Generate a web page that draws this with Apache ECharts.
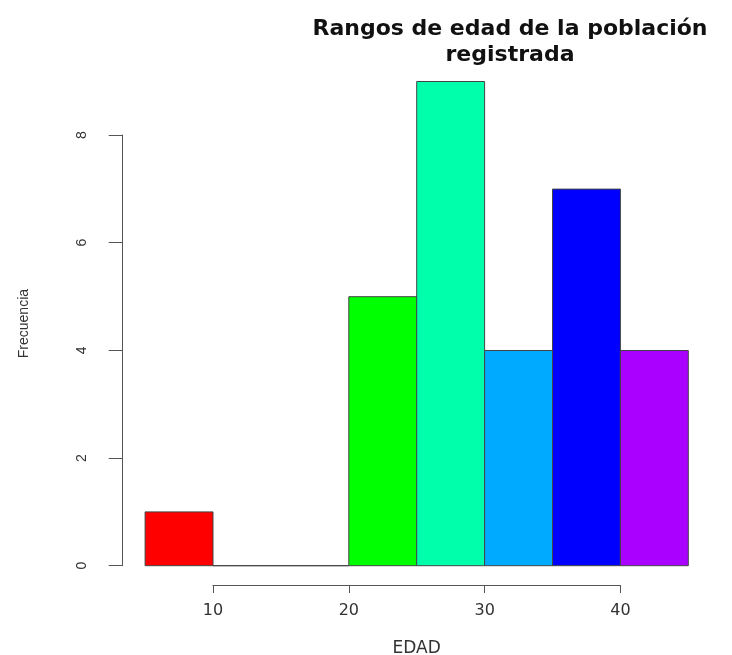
<!DOCTYPE html>
<html>
<head>
<meta charset="utf-8">
<script src="https://cdn.jsdelivr.net/npm/echarts@6/dist/echarts.min.js"></script>
<style>
html,body{margin:0;padding:0;background:#fff;}
#chart{width:732px;height:655px;}
</style>
</head>
<body>
<div id="chart"></div>
<script>
// Histogram bins (EDAD) and frequencies
const binStarts = [5, 10, 15, 20, 25, 30, 35, 40];
const binEnds   = [10, 15, 20, 25, 30, 35, 40, 45];
const counts    = [1, 0, 0, 5, 9, 4, 7, 4];
const barColors = ['#FF0000', '#FFAA00', '#AAFF00', '#00FF00', '#00FFAA', '#00AAFF', '#0000FF', '#AA00FF'];
const xTickMin = 10, xTickMax = 40, xTickStep = 10;
const yTickMin = 0, yTickMax = 8, yTickStep = 2;
const titleText = 'Rangos de edad de la población\nregistrada';
const xName = 'EDAD';
const yName = 'Frecuencia';

const chart = echarts.init(document.getElementById('chart'));
const axisColor = '#555';
const labelColor = '#333';

const option = {
  backgroundColor: '#ffffff',
  animation: false,
  title: {
    text: titleText,
    left: 505,
    top: 11,
    textAlign: 'center',
    textStyle: {
      fontFamily: 'DejaVu Sans',
      fontWeight: 'bold',
      fontSize: 22,
      lineHeight: 26,
      color: '#111'
    }
  },
  grid: [
    { left: 145.1, right: 43.7, top: 81.5, bottom: 89.3, outerBoundsMode: 'none', containLabel: false },   // bars
    { left: 213, right: 111.5, top: 81.5, bottom: 70, outerBoundsMode: 'none', containLabel: false },       // x axis
    { left: 122.7, right: 43.7, top: 135, bottom: 89.3, outerBoundsMode: 'none', containLabel: false }      // y axis
  ],
  xAxis: [
    {
      gridIndex: 0, type: 'value', min: 5, max: 45,
      axisLine: { show: false }, axisTick: { show: false },
      axisLabel: { show: false }, splitLine: { show: false },
      name: xName, nameLocation: 'middle', nameGap: 74,
      nameTextStyle: { fontFamily: 'DejaVu Sans', fontSize: 17, color: labelColor }
    },
    {
      gridIndex: 1, type: 'value', min: xTickMin, max: xTickMax, interval: xTickStep,
      axisLine: { show: true, lineStyle: { color: axisColor, width: 1 } },
      axisTick: { show: true, length: 8, lineStyle: { color: axisColor } },
      axisLabel: { show: true, margin: 18, fontFamily: 'DejaVu Sans', fontSize: 16, color: labelColor },
      splitLine: { show: false }
    },
    {
      gridIndex: 2, type: 'value', min: 0, max: 1, show: false
    }
  ],
  yAxis: [
    {
      gridIndex: 0, type: 'value', min: 0, max: 9,
      axisLine: { show: false }, axisTick: { show: false },
      axisLabel: { show: false }, splitLine: { show: false },
      name: yName, nameLocation: 'middle', nameGap: 114, nameRotate: 90,
      nameTextStyle: { fontFamily: 'Liberation Sans', fontSize: 14, color: labelColor }
    },
    {
      gridIndex: 1, type: 'value', min: 0, max: 1, show: false
    },
    {
      gridIndex: 2, type: 'value', min: yTickMin, max: yTickMax, interval: yTickStep,
      axisLine: { show: true, lineStyle: { color: axisColor, width: 1 } },
      axisTick: { show: true, length: 14, lineStyle: { color: axisColor } },
      axisLabel: { show: true, rotate: 90, margin: 34, fontFamily: 'Liberation Sans', fontSize: 14, color: labelColor },
      splitLine: { show: false }
    }
  ],
  series: [
    {
      type: 'custom',
      xAxisIndex: 0,
      yAxisIndex: 0,
      clip: false,
      encode: { x: [0, 1], y: 2 },
      data: binStarts.map((s, i) => [s, binEnds[i], counts[i]]),
      renderItem: function (params, api) {
        const p0 = api.coord([api.value(0), api.value(2)]);
        const p1 = api.coord([api.value(1), 0]);
        return {
          type: 'rect',
          shape: { x: p0[0], y: p0[1], width: p1[0] - p0[0], height: p1[1] - p0[1] },
          style: { fill: barColors[params.dataIndex], stroke: '#444', lineWidth: 1 }
        };
      }
    }
  ]
};
chart.setOption(option);
</script>
</body>
</html>
